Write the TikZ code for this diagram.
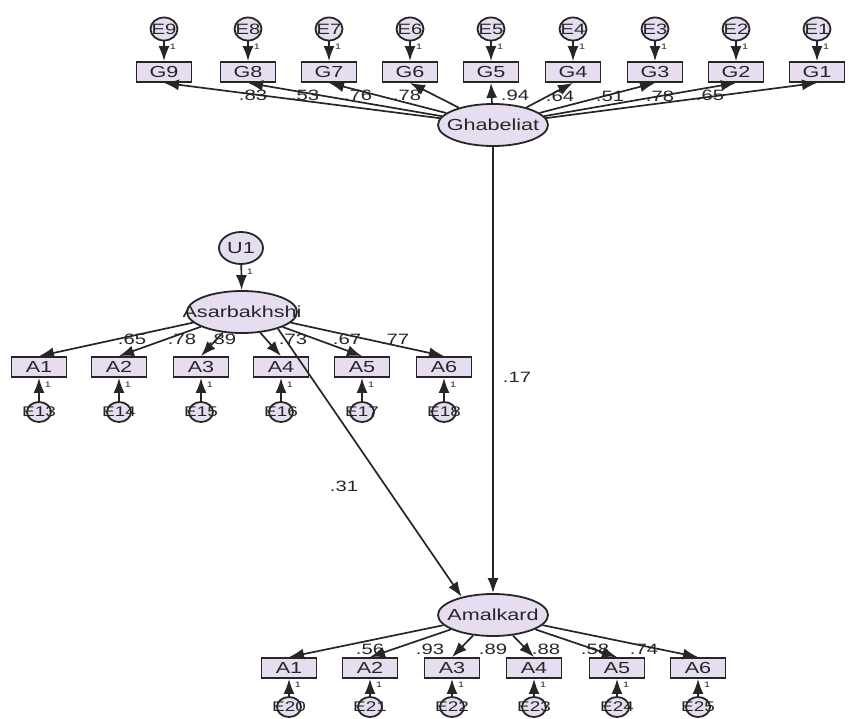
\documentclass[tikz,border=0pt]{standalone}
\usepackage{fontspec}
\setmainfont{Liberation Sans}[FakeStretch=1.35]
\usetikzlibrary{shapes.geometric,arrows.meta}
\definecolor{latentfill}{HTML}{E6DEF0}
\definecolor{pathline}{HTML}{262626}

\begin{document}
\begin{tikzpicture}
[
    x=1pt, y=-1pt,
    obs/.style={draw=pathline, line width=1.8pt, fill=latentfill, text=black!85, minimum width=55pt, minimum height=20pt, inner sep=0pt, font=\fontsize{16}{16}\selectfont},
    lat/.style={ellipse, draw=pathline, line width=1.8pt, fill=latentfill, text=black!85, minimum width=110pt, minimum height=42pt, inner xsep=-30pt, inner ysep=0pt, font=\fontsize{16}{16}\selectfont},
    err/.style={ellipse, draw=pathline, line width=1.8pt, fill=latentfill, text=black!85, minimum width=27pt, minimum height=23pt, inner xsep=-10pt, inner ysep=0pt, font=\fontsize{15}{15}\selectfont},
    smallerr/.style={err, minimum width=24pt, minimum height=20pt, font=\fontsize{14}{14}\selectfont},
    coef/.style={text=black!85, inner sep=0pt, font=\fontsize{15}{15}\selectfont},
    one/.style={text=black!85, inner sep=0pt, font=\fontsize{8}{8}\selectfont},
    causal/.style={draw=pathline, line width=1.7pt, -{Latex[length=15pt,width=11pt]}},
]
\useasboundingbox (0,0) rectangle (849,719);

% Ghabeliat and its items
\node [lat] (gh) at (493,125) {Ghabeliat};
\node [obs] (g9) at (164,72) {G9};
\node [obs] (g8) at (248,72) {G8};
\node [obs] (g7) at (329,72) {G7};
\node [obs] (g6) at (410,72) {G6};
\node [obs] (g5) at (491,72) {G5};
\node [obs] (g4) at (573,72) {G4};
\node [obs] (g3) at (655,72) {G3};
\node [obs] (g2) at (736,72) {G2};
\node [obs] (g1) at (817,72) {G1};
\node [err] (e9) at (164,29) {E9};
\node [err] (e8) at (248,29) {E8};
\node [err] (e7) at (329,29) {E7};
\node [err] (e6) at (410,29) {E6};
\node [err] (e5) at (491,29) {E5};
\node [err] (e4) at (573,29) {E4};
\node [err] (e3) at (655,29) {E3};
\node [err] (e2) at (736,29) {E2};
\node [err] (e1) at (817,29) {E1};

% Asarbakhshi and its items
\node [err, minimum width=44pt, minimum height=32pt, font=\fontsize{16}{16}\selectfont] (u1) at (241,248) {U1};
\node [lat] (as) at (242,312) {Asarbakhshi};
\node [obs] (a1) at (39,367) {A1};
\node [obs] (a2) at (119,367) {A2};
\node [obs] (a3) at (201,367) {A3};
\node [obs] (a4) at (281,367) {A4};
\node [obs] (a5) at (362,367) {A5};
\node [obs] (a6) at (444,367) {A6};
\node [smallerr] (e13) at (39,412) {E13};
\node [smallerr] (e14) at (119,412) {E14};
\node [smallerr] (e15) at (201,412) {E15};
\node [smallerr] (e16) at (281,412) {E16};
\node [smallerr] (e17) at (362,412) {E17};
\node [smallerr] (e18) at (444,412) {E18};

% Amalkard and its items
\node [lat] (am) at (493,615) {Amalkard};
\node [obs] (b1) at (289,668) {A1};
\node [obs] (b2) at (370,668) {A2};
\node [obs] (b3) at (452,668) {A3};
\node [obs] (b4) at (534,668) {A4};
\node [obs] (b5) at (617,668) {A5};
\node [obs] (b6) at (698,668) {A6};
\node [smallerr] (e20) at (289,707) {E20};
\node [smallerr] (e21) at (370,707) {E21};
\node [smallerr] (e22) at (452,707) {E22};
\node [smallerr] (e23) at (534,707) {E23};
\node [smallerr] (e24) at (617,707) {E24};
\node [smallerr] (e25) at (698,707) {E25};

% loadings
\draw [causal] (gh) -- (g9.south);
\draw [causal] (gh) -- (g8.south);
\draw [causal] (gh) -- (g7.south);
\draw [causal] (gh) -- (g6.south);
\draw [causal] (gh) -- (g5.south);
\draw [causal] (gh) -- (g4.south);
\draw [causal] (gh) -- (g3.south);
\draw [causal] (gh) -- (g2.south);
\draw [causal] (gh) -- (g1.south);
\draw [causal] (as) -- (a1.north);
\draw [causal] (as) -- (a2.north);
\draw [causal] (as) -- (a3.north);
\draw [causal] (as) -- (a4.north);
\draw [causal] (as) -- (a5.north);
\draw [causal] (as) -- (a6.north);
\draw [causal] (am) -- (b1.north);
\draw [causal] (am) -- (b2.north);
\draw [causal] (am) -- (b3.north);
\draw [causal] (am) -- (b4.north);
\draw [causal] (am) -- (b5.north);
\draw [causal] (am) -- (b6.north);

% structural paths
\draw [causal] (gh) -- (am);
\draw [causal] (as.-25) -- (am.150);
\draw [causal] (u1) -- (as);

% error terms
\draw [causal] (e9) -- (g9);
\draw [causal] (e8) -- (g8);
\draw [causal] (e7) -- (g7);
\draw [causal] (e6) -- (g6);
\draw [causal] (e5) -- (g5);
\draw [causal] (e4) -- (g4);
\draw [causal] (e3) -- (g3);
\draw [causal] (e2) -- (g2);
\draw [causal] (e1) -- (g1);
\draw [causal] (e13) -- (a1);
\draw [causal] (e14) -- (a2);
\draw [causal] (e15) -- (a3);
\draw [causal] (e16) -- (a4);
\draw [causal] (e17) -- (a5);
\draw [causal] (e18) -- (a6);
\draw [causal] (e20) -- (b1);
\draw [causal] (e21) -- (b2);
\draw [causal] (e22) -- (b3);
\draw [causal] (e23) -- (b4);
\draw [causal] (e24) -- (b5);
\draw [causal] (e25) -- (b6);

% coefficients
\node [coef] (w9) at (253,95) {.83};
\node [coef] (w8) at (305,95) {.53};
\node [coef] (w7) at (358,95) {.76};
\node [coef] (w6) at (407,95) {.78};
\node [coef] (w5) at (515,95) {.94};
\node [coef] (w4) at (560,96) {.64};
\node [coef] (w3) at (610,96) {.51};
\node [coef] (w2) at (660,96) {.78};
\node [coef] (w1) at (710,95) {.65};
\node [coef] (v1) at (132,339) {.65};
\node [coef] (v2) at (182,339) {.78};
\node [coef] (v3) at (222,339) {.89};
\node [coef] (v4) at (293,339) {.73};
\node [coef] (v5) at (347,339) {.67};
\node [coef] (v6) at (395,339) {.77};
\node [coef] (r1) at (370,649) {.56};
\node [coef] (r2) at (430,649) {.93};
\node [coef] (r3) at (493,649) {.89};
\node [coef] (r4) at (546,649) {.88};
\node [coef] (r5) at (595,649) {.58};
\node [coef] (r6) at (644,649) {.74};
\node [coef] (p1) at (517,377) {.17};
\node [coef] (p2) at (344,486) {.31};

% fixed weights
\node [one] (f9) at (173,47) {1};
\node [one] (f8) at (257,47) {1};
\node [one] (f7) at (338,47) {1};
\node [one] (f6) at (419,47) {1};
\node [one] (f5) at (500,47) {1};
\node [one] (f4) at (582,47) {1};
\node [one] (f3) at (664,47) {1};
\node [one] (f2) at (745,47) {1};
\node [one] (f1) at (826,47) {1};
\node [one] (fu) at (250,272) {1};
\node [one] (f13) at (48,385) {1};
\node [one] (f14) at (128,385) {1};
\node [one] (f15) at (210,385) {1};
\node [one] (f16) at (290,385) {1};
\node [one] (f17) at (371,385) {1};
\node [one] (f18) at (453,385) {1};
\node [one] (f20) at (298,685) {1};
\node [one] (f21) at (379,685) {1};
\node [one] (f22) at (461,685) {1};
\node [one] (f23) at (543,685) {1};
\node [one] (f24) at (626,685) {1};
\node [one] (f25) at (707,685) {1};
\end{tikzpicture}
\end{document}
